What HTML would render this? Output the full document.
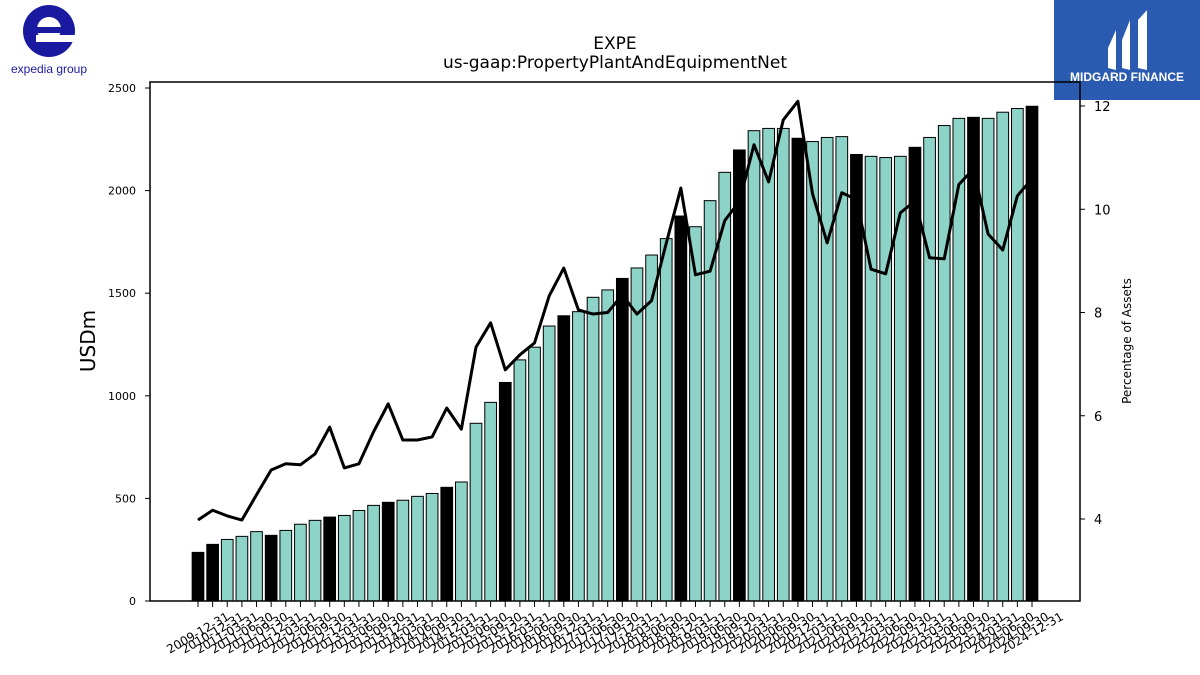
<!DOCTYPE html>
<html><head><meta charset="utf-8"><style>
html,body{margin:0;padding:0;background:#fff;}
svg{display:block;font-family:"DejaVu Sans","Liberation Sans",sans-serif;}
</style></head><body>
<svg id="c" width="1200" height="675" viewBox="0 0 1200 675">
<g>
<circle cx="49" cy="31" r="26" fill="#1a1aa0"/>
<circle cx="49" cy="29" r="12" fill="#fff"/>
<rect x="36" y="35" width="40" height="7" fill="#fff"/>
<rect x="37" y="27" width="25" height="6" fill="#1a1aa0"/>
<text x="49" y="73" font-size="12" fill="#1a1aa0" text-anchor="middle" font-family="Liberation Sans, sans-serif">expedia group</text>
</g>
<g>
<rect x="1054" y="0" width="146" height="100" fill="#2b5bb0"/>
<path d="M1108 48 L1116 30 L1116 70 L1108 68 Z" fill="#fff"/>
<path d="M1122 40 L1130 20 L1130 70 L1122 68 Z" fill="#fff"/>
<path d="M1138 20 L1147 10 L1147 70 L1138 68 Z" fill="#fff"/>
<text x="1127" y="81" font-size="12" font-weight="bold" fill="#fff" text-anchor="middle" font-family="Liberation Sans, sans-serif">MIDGARD FINANCE</text>
</g>
<text x="615" y="49" font-size="17" text-anchor="middle">EXPE</text>
<text x="615" y="68" font-size="17" text-anchor="middle">us-gaap:PropertyPlantAndEquipmentNet</text>
<g id="bars"></g><g id="line"></g><g id="axes"></g>
</svg>
<script>
const dates=["2009-12-31","2010-12-31"];
for(let y=2011;y<=2024;y++){for(const q of ["03-31","06-30","09-30","12-31"])dates.push(y+"-"+q);}
const ppe=[237,276,300,315,338,320,344,374,393,409,417,441,466,481,491,510,524,554,580,866,968,1065,1175,1237,1340,1390,1410,1480,1516,1572,1623,1686,1766,1876,1824,1951,2089,2198,2292,2303,2303,2255,2239,2259,2263,2176,2167,2161,2167,2211,2259,2317,2352,2357,2352,2382,2400,2411];
const pct=[3.98,4.17,4.06,3.98,4.47,4.95,5.07,5.05,5.26,5.78,4.99,5.07,5.69,6.23,5.53,5.53,5.59,6.15,5.74,7.33,7.80,6.89,7.18,7.41,8.32,8.86,8.05,7.97,8.0,8.34,7.97,8.23,9.34,10.41,8.73,8.80,9.78,10.15,11.25,10.53,11.73,12.09,10.30,9.35,10.32,10.19,8.84,8.75,9.93,10.16,9.06,9.04,10.48,10.78,9.52,9.21,10.26,10.59];
const leftTicks=[0,500,1000,1500,2000,2500];
const rightTicks=[4,6,8,10,12];
const NS="http://www.w3.org/2000/svg";
const L=150,R=1080,T=82,B=601;
const x=i=>198+i*(1032-198)/(dates.length-1);
const yL=v=>601-v*(513/2500);
const yR=v=>519-(v-4)*(413/8);
function mk(tag,attrs,parent){const e=document.createElementNS(NS,tag);for(const k in attrs)e.setAttribute(k,attrs[k]);parent.appendChild(e);return e;}
const gb=document.getElementById('bars'),gl=document.getElementById('line'),ga=document.getElementById('axes');
const bw=11.7;
ppe.forEach((v,i)=>{
 const black=dates[i].endsWith("12-31");
 const r=mk('rect',{x:x(i)-bw/2,y:yL(v),width:bw,height:B-yL(v),fill:black?'#000':'#8dd3c7',stroke:'#000','stroke-width':1},gb);
 
 
});
const pl=mk('polyline',{points:pct.map((v,i)=>x(i)+','+yR(v)).join(' '),fill:'none',stroke:'#000','stroke-width':3,'stroke-linejoin':'round'},gl);


const fr=mk('rect',{x:L,y:T,width:R-L,height:B-T,fill:'none',stroke:'#000','stroke-width':1.5},ga);


leftTicks.forEach(v=>{
 mk('line',{x1:L-5,x2:L,y1:yL(v),y2:yL(v),stroke:'#000'},ga);
 const t=mk('text',{x:L-14,y:yL(v)+4,'font-size':11,'text-anchor':'end'},ga);t.textContent=v;
 
 
});
rightTicks.forEach(v=>{
 mk('line',{x1:R,x2:R+5,y1:yR(v),y2:yR(v),stroke:'#000'},ga);
 const t=mk('text',{x:R+14,y:yR(v)+5,'font-size':13},ga);t.textContent=v;
 
 
});
dates.forEach((d,i)=>{
 mk('line',{x1:x(i),x2:x(i),y1:B,y2:B+6,stroke:'#000'},ga);
 const cx=x(i), cy=B+36;
 const t=mk('text',{x:cx,y:cy,'font-size':12,'text-anchor':'middle',transform:`rotate(-30 ${cx} ${cy-4})`},ga);t.textContent=d;
 
 
});
const yt=mk('text',{x:95,y:341,'font-size':20,'text-anchor':'middle',transform:'rotate(-90 95 341)'},ga);yt.textContent='USDm';


const rt=mk('text',{x:1131,y:341,'font-size':12,'text-anchor':'middle',transform:'rotate(-90 1131 341)'},ga);rt.textContent='Percentage of Assets';


</script>
</body></html>
